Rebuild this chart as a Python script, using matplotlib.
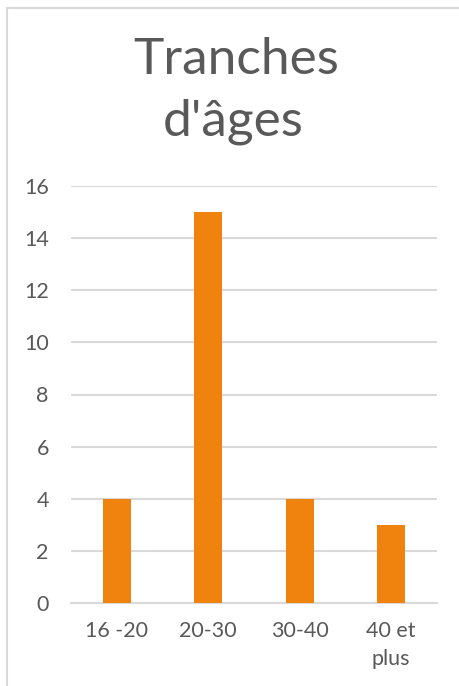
import matplotlib.pyplot as plt
from matplotlib.lines import Line2D

categories = ['16 -20', '20-30', '30-40', '40 et\nplus']
counts = [4, 15, 4, 3]
y_ticks = [0, 2, 4, 6, 8, 10, 12, 14, 16]

text_color = '#595959'
bar_color = '#F0820E'
grid_color = '#D9D9D9'

plt.rcParams['font.family'] = ['Lato', 'DejaVu Sans']

W, H = 460, 686
fig = plt.figure(figsize=(W / 100, H / 100), dpi=100)

# plot area in pixels: x 71..437, y 186..603 (from top)
ax = fig.add_axes([71 / W, (H - 603) / H, (437 - 71) / W, (603 - 186) / H])

x = range(len(categories))
ax.bar(x, counts, width=0.31, color=bar_color, zorder=3)

ax.set_xlim(-0.5, len(categories) - 0.5)
ax.set_ylim(0, 16)
ax.set_yticks(y_ticks)
ax.set_xticks(list(x))
ax.set_xticklabels(categories)
ax.yaxis.grid(True, color=grid_color, linewidth=1.5, zorder=0)
ax.tick_params(axis='both', length=0, labelsize=15.5, colors=text_color)
ax.tick_params(axis='y', pad=16)
ax.tick_params(axis='x', pad=13)
for s in ['top', 'right', 'left']:
    ax.spines[s].set_visible(False)
ax.spines['bottom'].set_color(grid_color)
ax.spines['bottom'].set_linewidth(1.5)
for lbl in ax.get_xticklabels():
    lbl.set_linespacing(1.5)

fig.text(236 / W, 1 - 60 / H, "Tranches", ha='center', va='center',
         fontsize=37, color=text_color)
fig.text(233 / W, 1 - 122 / H, "d'âges", ha='center', va='center',
         fontsize=37, color=text_color)

# chart frame (left and top edges only visible)
fig.add_artist(Line2D([7.5 / W, 7.5 / W], [0, 1 - 7.5 / H], color=grid_color, linewidth=1.5))
fig.add_artist(Line2D([7.5 / W, 1], [1 - 7.5 / H, 1 - 7.5 / H], color=grid_color, linewidth=1.5))

fig.savefig('out.png', dpi=100)
